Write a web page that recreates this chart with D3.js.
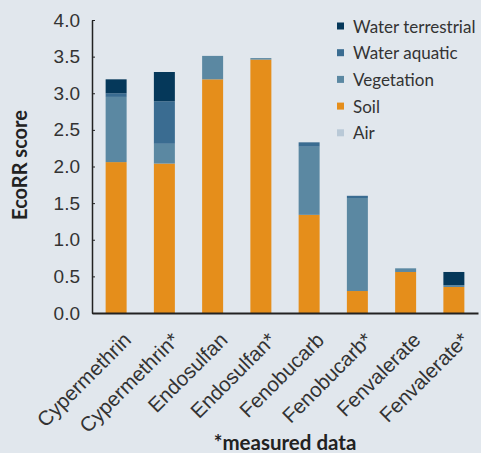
<!DOCTYPE html>
<html>
<head>
<meta charset="utf-8">
<script src="https://cdn.jsdelivr.net/npm/d3@7"></script>
<style>
  body { margin: 0; background: #e1e7ed; }
  svg { display: block; font-family: Lato, "Open Sans", sans-serif; }
</style>
</head>
<body>
<div id="chart"></div>
<script>
// chart data
var categories = ["Cypermethrin", "Cypermethrin*", "Endosulfan", "Endosulfan*",
                  "Fenobucarb", "Fenobucarb*", "Fenvalerate", "Fenvalerate*"];
var air              = [0, 0, 0, 0, 0, 0, 0, 0];
var soil             = [2.06, 2.04, 3.19, 3.46, 1.34, 0.30, 0.56, 0.355];
var vegetation       = [0.89, 0.27, 0.32, 0.02, 0.93, 1.27, 0.05, 0.025];
var waterAquatic     = [0.05, 0.58, 0, 0, 0.06, 0.03, 0, 0];
var waterTerrestrial = [0.19, 0.40, 0, 0, 0, 0, 0, 0.18];
var yTicks = [0, 0.5, 1, 1.5, 2, 2.5, 3, 3.5, 4];

var seriesNames = ["Air", "Soil", "Vegetation", "Water aquatic", "Water terrestrial"];
var seriesValues = [air, soil, vegetation, waterAquatic, waterTerrestrial];
var colors = ["#b9c9d7", "#e58e1b", "#5b88a2", "#3a6c91", "#05385a"];

var width = 481, height = 453;
var plotLeft = 92, plotRight = 478, plotTop = 20, plotBottom = 313;

var rows = categories.map(function (c, i) {
  var r = { name: c };
  seriesNames.forEach(function (s, j) { r[s] = seriesValues[j][i]; });
  return r;
});

var stack = d3.stack().keys(seriesNames)(rows);

var x = d3.scaleBand()
  .domain(categories)
  .range([plotLeft, plotRight])
  .paddingInner(0.565)
  .paddingOuter(0.2825);
var y = d3.scaleLinear()
  .domain([0, 4])
  .range([plotBottom, plotTop]);

var svg = d3.select("#chart").append("svg")
  .attr("width", width)
  .attr("height", height);

svg.append("rect")
  .attr("width", width)
  .attr("height", height)
  .attr("fill", "#e1e7ed");

// bars
svg.selectAll(".layer")
  .data(stack)
  .enter().append("g")
  .attr("class", "layer")
  .attr("fill", function (d, i) { return colors[i]; })
  .selectAll("rect")
  .data(function (d) { return d; })
  .enter().append("rect")
  .attr("x", function (d) { return x(d.data.name); })
  .attr("width", x.bandwidth())
  .attr("y", function (d) { return y(d[1]); })
  .attr("height", function (d) { return y(d[0]) - y(d[1]); });

// y axis
var yAxis = svg.append("g")
  .attr("transform", "translate(" + plotLeft + ",0)")
  .call(d3.axisLeft(y).tickValues(yTicks).tickFormat(d3.format(".1f"))
    .tickSizeInner(-3).tickSizeOuter(0).tickPadding(12));
yAxis.select(".domain").attr("stroke", "#222").attr("stroke-width", 1.5);
yAxis.selectAll(".tick line").attr("stroke", "#222");
yAxis.selectAll("text")
  .attr("fill", "#333")
  .style("font-size", "19px");

// x axis
var xAxis = svg.append("g")
  .attr("transform", "translate(0," + plotBottom + ")")
  .call(d3.axisBottom(x).tickSize(0).tickPadding(0));
xAxis.select(".domain").attr("stroke", "#222").attr("stroke-width", 2);
xAxis.selectAll("text")
  .attr("fill", "#333")
  .style("font-size", "20.5px")
  .style("text-anchor", "end")
  .attr("dy", null)
  .attr("y", 0)
  .attr("dominant-baseline", "central")
  .attr("transform", "translate(11,23) rotate(-45)");

// axis titles
svg.append("text")
  .attr("transform", "translate(19,165) rotate(-90)")
  .attr("text-anchor", "middle")
  .attr("dominant-baseline", "central")
  .attr("fill", "#222")
  .style("font-size", "20px")
  .style("font-weight", "bold")
  .text("EcoRR score");

svg.append("text")
  .attr("x", 285)
  .attr("y", 450)
  .attr("text-anchor", "middle")
  .attr("fill", "#222")
  .style("font-size", "20.5px")
  .style("font-weight", "bold")
  .text("*measured data");

// legend
var legend = svg.append("g")
  .attr("transform", "translate(337,26)");
var legendItems = seriesNames.slice().reverse();
legendItems.forEach(function (s, i) {
  var g = legend.append("g").attr("transform", "translate(0," + (i * 26.7) + ")");
  g.append("rect")
    .attr("x", 0).attr("y", -3.5)
    .attr("width", 7).attr("height", 7)
    .attr("fill", colors[seriesNames.indexOf(s)]);
  g.append("text")
    .attr("x", 16)
    .attr("y", 0)
    .attr("dominant-baseline", "central")
    .attr("fill", "#333")
    .style("font-size", "17px")
    .text(s);
});
</script>
</body>
</html>
